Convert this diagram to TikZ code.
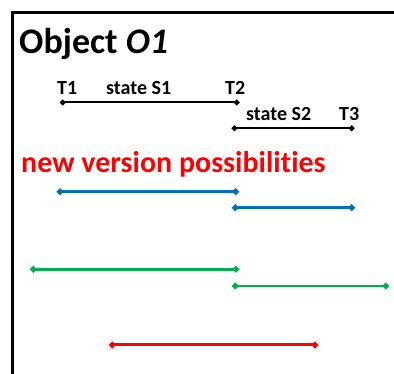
\documentclass[tikz,border=0pt]{standalone}
\usepackage{fontspec}
\setmainfont[Ligatures=NoCommon]{Carlito}
\usetikzlibrary{shapes.geometric}
\definecolor{msblue}{HTML}{0070C0}
\definecolor{msgreen}{HTML}{00B050}
\definecolor{msred}{HTML}{FF0000}
\tikzset{
  x=1pt, y=1pt,
  frameline/.style={line width=3.5pt, black},
  lbl/.style={anchor=base west, inner sep=0pt, font=\fontsize{20}{24}\selectfont\bfseries},
  endpt/.style={diamond, fill=#1, inner sep=0pt, minimum size=7.5pt},
  endpt/.default=black,
  span/.style={line width=#1},
  span/.default=2pt,
}
\begin{document}
\begin{tikzpicture}
\useasboundingbox (0,0) rectangle (394,374);
% open frame: left and top edges only
\coordinate (fbl) at (12.5,-2);
\coordinate (ftl) at (12.5,361.5);
\coordinate (ftr) at (396,361.5);
\draw[frameline] (fbl) -- (ftl) -- (ftr);

% title
\node[anchor=base west, inner sep=0pt, font=\fontsize{36}{43}\selectfont\bfseries] (title) at (19,320) {Object \textit{O1}};

% reference timeline
\node[lbl] (t1) at (57,279) {T1};
\node[lbl] (s1) at (106,279) {state S1};
\node[lbl] (t2) at (225,279) {T2};
\node[lbl] (s2) at (246,253) {state S2};
\node[lbl] (t3) at (339,253) {T3};

\node[endpt, minimum size=6.5pt] (a1) at (62.7,271.5) {};
\node[endpt, minimum size=6.5pt] (a2) at (236.7,271.5) {};
\node[endpt, minimum size=6.5pt] (b1) at (234.5,245.7) {};
\node[endpt, minimum size=6.5pt] (b2) at (351.7,245.7) {};
\draw[span] (a1.center) -- (a2.center);
\draw[span] (b1.center) -- (b2.center);

% heading for alternatives
\node[anchor=base west, inner sep=0pt, text=msred, font=\fontsize{30}{36}\selectfont\bfseries] (nv) at (21,201) {new version possibilities};

% blue alternative
\node[endpt=msblue] (c1) at (60,182.3) {};
\node[endpt=msblue] (c2) at (235.7,182.3) {};
\node[endpt=msblue] (d1) at (235.3,166.3) {};
\node[endpt=msblue] (d2) at (351.7,166.3) {};
\draw[span=2.7pt, msblue] (c1.center) -- (c2.center);
\draw[span=2.7pt, msblue] (d1.center) -- (d2.center);

% green alternative
\node[endpt=msgreen] (e1) at (33.3,104.7) {};
\node[endpt=msgreen] (e2) at (236,104.7) {};
\node[endpt=msgreen] (f1) at (235.3,88) {};
\node[endpt=msgreen] (f2) at (385.7,88) {};
\draw[span=2.7pt, msgreen] (e1.center) -- (e2.center);
\draw[span=2.7pt, msgreen] (f1.center) -- (f2.center);

% red alternative
\node[endpt=msred] (g1) at (112.3,29) {};
\node[endpt=msred] (g2) at (315,29) {};
\draw[span=3pt, msred] (g1.center) -- (g2.center);
\end{tikzpicture}
\end{document}
